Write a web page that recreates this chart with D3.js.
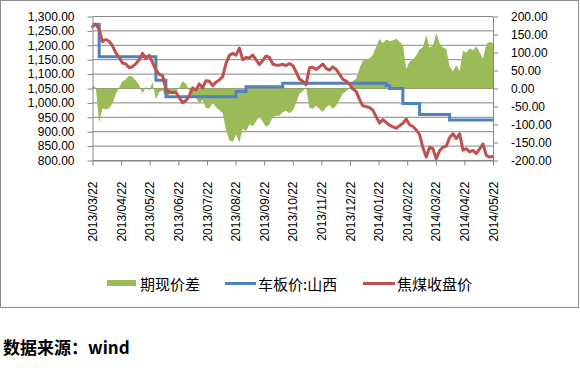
<!DOCTYPE html>
<html>
<head>
<meta charset="utf-8">
<script src="https://cdn.jsdelivr.net/npm/d3@7"></script>
<style>
body { margin: 0; background: #fff; }
text { font-family: "Liberation Sans", Arial, sans-serif; fill: #000; }
.cjk { font-family: "Noto Sans CJK SC", sans-serif; }
</style>
</head>
<body>
<svg id="chart" width="580" height="368"></svg>
<script>
const months = ['2013/03/22', '2013/04/22', '2013/05/22', '2013/06/22', '2013/07/22', '2013/08/22', '2013/09/22', '2013/10/22',
  '2013/11/22', '2013/12/22', '2014/01/22', '2014/02/22', '2014/03/22', '2014/04/22', '2014/05/22']
const leftTicks = [800, 850, 900, 950, 1000, 1050, 1100, 1150, 1200, 1250, 1300]
const rightTicks = [-200, -150, -100, -50, 0, 50, 100, 150, 200]
const seriesNames = ['期现价差', '车板价:山西', '焦煤收盘价']

// 期现价差 (right axis)
const spread = [8, 2, -95, -55, -58, -55, -40, -15, 3, 20,
  26, 36, 32, 22, 10, -14, 5, -6, 18, -30,
  -10, -5, -25, -17, -14, -10, 3, 20, 13, -4,
  -25, -25, -42, -32, -55, -55, -40, -52, -60, -68,
  -115, -144, -148, -128, -150, -112, -118, -100, -105, -92,
  -77, -92, -107, -100, -79, -76, -76, -66, -62, -69,
  -62, -40, -15, -7, 3, -54, -56, -48, -57, -65,
  -52, -46, -57, -48, -32, -14, -8, 3, 20, 28,
  56, 78, 81, 84, 93, 116, 138, 126, 136, 132,
  133, 138, 129, 121, 54, 74, 80, 92, 108, 115,
  148, 114, 119, 154, 126, 114, 110, 61, 48, 65,
  48, 105, 100, 111, 106, 117, 101, 83, 123, 129,
  127]

// 车板价:山西 (left axis)
const truckPrice = [1272, 1272, 1160, 1160, 1160, 1160, 1160, 1160, 1160, 1160,
  1160, 1160, 1160, 1160, 1160, 1160, 1160, 1160, 1160, 1079,
  1079, 1079, 1021, 1021, 1021, 1021, 1021, 1021, 1021, 1021,
  1021, 1021, 1021, 1021, 1021, 1021, 1021, 1021, 1021, 1021,
  1021, 1021, 1021, 1040, 1040, 1040, 1056, 1056, 1056, 1056,
  1056, 1056, 1056, 1056, 1056, 1056, 1056, 1068, 1068, 1068,
  1068, 1068, 1068, 1068, 1068, 1068, 1068, 1068, 1068, 1068,
  1068, 1068, 1068, 1068, 1068, 1068, 1068, 1068, 1068, 1068,
  1068, 1068, 1068, 1068, 1068, 1068, 1068, 1068, 1060, 1050,
  1050, 1050, 1050, 998, 998, 998, 998, 998, 960, 960,
  960, 960, 960, 960, 960, 960, 960, 941, 941, 941,
  941, 941, 941, 941, 941, 941, 941, 941, 941, 941,
  941]

// 焦煤收盘价 (left axis)
const closePrice = [1265, 1274, 1255, 1213, 1220, 1214, 1198, 1174, 1157, 1138,
  1135, 1122, 1126, 1136, 1150, 1172, 1154, 1165, 1140, 1115,
  1099, 1095, 1046, 1038, 1035, 1037, 1018, 1001, 1008, 1025,
  1052, 1045, 1066, 1052, 1077, 1075, 1060, 1072, 1080, 1091,
  1137, 1165, 1172, 1166, 1190, 1150, 1158, 1156, 1166, 1150,
  1133, 1147, 1163, 1158, 1135, 1131, 1131, 1134, 1130, 1137,
  1130, 1108, 1083, 1075, 1063, 1122, 1124, 1116, 1125, 1135,
  1120, 1114, 1125, 1116, 1100, 1082, 1076, 1065, 1048, 1040,
  1012, 990, 987, 984, 975, 952, 930, 942, 932, 923,
  917, 912, 921, 929, 944, 924, 918, 906, 890, 845,
  812, 846, 841, 806, 834, 846, 850, 880, 893, 876,
  893, 836, 841, 830, 835, 824, 840, 858, 818, 812,
  814]

const colors = ['#9BBB59', '#4F81BD', '#C0504D']
const gridColor = '#868686'

const svg = d3.select('#chart')
const m = { left: 92.5, right: 493, top: 16.5, bottom: 160.5 }
const n = closePrice.length
const step = (n - 1) / (months.length - 1)

const x = d3.scaleLinear().domain([0, n - 1]).range([m.left, m.right])
const yL = d3.scaleLinear().domain([800, 1300]).range([m.bottom, m.top])
const yR = d3.scaleLinear().domain([-200, 200]).range([m.bottom, m.top])
const fmt = d3.formatLocale({ decimal: '.', thousands: ',', grouping: [3], currency: ['', ''], minus: '-' }).format(',.2f')

// chart frame
svg.append('rect').attr('x', 0.5).attr('y', 0.5).attr('width', 578).attr('height', 307)
  .attr('fill', '#fff').attr('stroke', '#8c8c8c')

// gridlines
svg.append('g').selectAll('line').data(leftTicks).join('line')
  .attr('x1', m.left).attr('x2', m.right)
  .attr('y1', d => yL(d)).attr('y2', d => yL(d))
  .attr('stroke', gridColor).attr('stroke-width', 1)

// spread area
svg.append('path').datum(spread)
  .attr('fill', colors[0])
  .attr('d', d3.area().x((d, i) => x(i)).y0(yR(0)).y1(d => yR(d)))

// truck price (step line)
svg.append('path').datum(truckPrice)
  .attr('fill', 'none').attr('stroke', colors[1]).attr('stroke-width', 3)
  .attr('d', d3.line().x((d, i) => x(i)).y(d => yL(d)).curve(d3.curveStepAfter))

// close price
svg.append('path').datum(closePrice)
  .attr('fill', 'none').attr('stroke', colors[2]).attr('stroke-width', 3)
  .attr('stroke-linejoin', 'round').attr('stroke-linecap', 'round')
  .attr('d', d3.line().x((d, i) => x(i)).y(d => yL(d)))

// axes
const styleAxis = g => {
  g.selectAll('path, line').attr('stroke', gridColor)
  g.selectAll('text').attr('font-size', 12).attr('font-family', '"DejaVu Sans", sans-serif')
}
svg.append('g').attr('transform', `translate(${m.left},0)`)
  .call(d3.axisLeft(yL).tickValues(leftTicks).tickFormat(fmt).tickSize(5).tickSizeOuter(0).tickPadding(13))
  .call(styleAxis)
svg.append('g').attr('transform', `translate(${m.right},0)`)
  .call(d3.axisRight(yR).tickValues(rightTicks).tickFormat(fmt).tickSize(5).tickSizeOuter(0).tickPadding(13))
  .call(styleAxis)
const xAxis = svg.append('g').attr('transform', `translate(0,${m.bottom})`)
  .call(d3.axisBottom(x).tickValues(months.map((d, k) => k * step)).tickFormat((d, k) => months[k]).tickSize(5).tickSizeOuter(0))
  .call(styleAxis)
xAxis.selectAll('text')
  .attr('font-size', 12)
  .attr('font-family', '"Liberation Sans", Arial, sans-serif')
  .attr('transform', 'rotate(-90)')
  .attr('text-anchor', 'end')
  .attr('x', -21).attr('y', 0).attr('dy', '0.35em')

// legend
const legend = svg.append('g').attr('class', 'cjk')
legend.append('rect').attr('x', 107).attr('y', 280).attr('width', 29).attr('height', 6).attr('fill', colors[0])
legend.append('line').attr('x1', 225).attr('x2', 256).attr('y1', 283.5).attr('y2', 283.5).attr('stroke', colors[1]).attr('stroke-width', 3)
legend.append('line').attr('x1', 363).attr('x2', 395).attr('y1', 283.5).attr('y2', 283.5).attr('stroke', colors[2]).attr('stroke-width', 3)
const legendX = [140, 258, 397]
legend.selectAll('text').data(seriesNames).join('text')
  .attr('x', (d, i) => legendX[i]).attr('y', 290)
  .attr('font-size', 15).attr('class', 'cjk')
  .text(d => d)

// source note
svg.append('text').attr('class', 'cjk').attr('x', 3).attr('y', 354)
  .attr('font-size', 17).attr('font-weight', 'bold')
  .text('数据来源：wind')
</script>
</body>
</html>
